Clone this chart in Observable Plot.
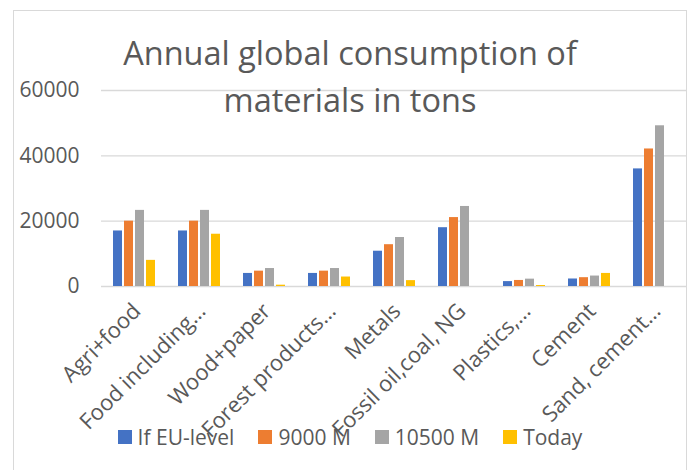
<!DOCTYPE html>
<html>
<head>
<meta charset="utf-8">
<script src="https://cdn.jsdelivr.net/npm/d3@7"></script>
<script src="https://cdn.jsdelivr.net/npm/@observablehq/plot@0.6"></script>
<style>
  body { margin: 0; background: #fff; font-family: "Open Sans", sans-serif; }
  #wrap { position: relative; width: 692px; height: 470px; overflow: hidden; }
  #frame { position: absolute; left: 13px; top: 10px; width: 674px; height: 480px; border: 1px solid #d9d9d9; box-sizing: border-box; }
  #chart { position: absolute; left: 0; top: 0; }
  #title { position: absolute; left: 13px; width: 674px; top: 29px; text-align: center; font-size: 32.5px; line-height: 47px; color: #595959; }
  #legend { position: absolute; left: 13px; width: 674px; top: 420px; height: 34px; display: flex; justify-content: center; align-items: center; font-size: 21px; color: #595959; }
  .item { display: flex; align-items: center; margin: 0 12px; }
  .sw { width: 14px; height: 14px; margin-right: 6px; }
</style>
</head>
<body>
<div id="wrap">
  <div id="frame"></div>
  <div id="chart"></div>
  <div id="title">Annual global consumption of<br>materials in tons</div>
  <div id="legend"></div>
</div>
<script>
const categories = ["Agri+food", "Food including…", "Wood+paper", "Forest products…", "Metals", "Fossil oil,coal, NG", "Plastics,…", "Cement", "Sand, cement…"];
const series = ["If EU-level", "9000 M", "10500 M", "Today"];
const ifEU   = [17000, 17000, 4000, 4000, 10800, 18000, 1500, 2300, 36000];
const m9000  = [20000, 20000, 4700, 4700, 12800, 21100, 1850, 2700, 42100];
const m10500 = [23300, 23300, 5500, 5500, 15000, 24500, 2250, 3200, 49200];
const today  = [8000, 16000, 400, 2900, 1800, null, 300, 4000, null];
const yTicks = [0, 20000, 40000, 60000];
const colors = ["#4472C4", "#ED7D31", "#A5A5A5", "#FFC000"];

const seriesValues = [ifEU, m9000, m10500, today];
const data = categories.flatMap((c, i) =>
  series.map((s, j) => ({category: c, series: s, value: seriesValues[j][i]}))
).filter(d => d.value != null);

const chart = Plot.plot({
  width: 692,
  height: 420,
  marginLeft: 100,
  marginRight: 6,
  marginTop: 90,
  marginBottom: 134,
  style: {fontFamily: "Open Sans", fontSize: "21px", color: "#595959", background: "transparent", overflow: "visible"},
  fx: {domain: categories, padding: 0, label: null, axis: null},
  x: {domain: series, paddingInner: 0.2, paddingOuter: 0.882, axis: null},
  y: {domain: [0, 60000], label: null, axis: null},
  color: {domain: series, range: colors},
  marks: [
    Plot.ruleY(yTicks, {stroke: "#d9d9d9", strokeWidth: 1.3}),
    Plot.axisY(yTicks, {tickFormat: d => String(d), label: null, tickSize: 0, tickPadding: 22, fontSize: 21}),
    Plot.axisFx({anchor: "bottom", label: null, tickRotate: -45, tickSize: 0, tickPadding: 21, dx: 3, fontSize: 22}),
    Plot.barY(data, {fx: "category", x: "series", y: "value", fill: "series"})
  ]
});
document.getElementById("chart").appendChild(chart);

const legend = document.getElementById("legend");
series.forEach((s, j) => {
  const it = document.createElement("div");
  it.className = "item";
  it.innerHTML = `<span class="sw" style="background:${colors[j]}"></span><span>${s}</span>`;
  legend.appendChild(it);
});
</script>
</body>
</html>
